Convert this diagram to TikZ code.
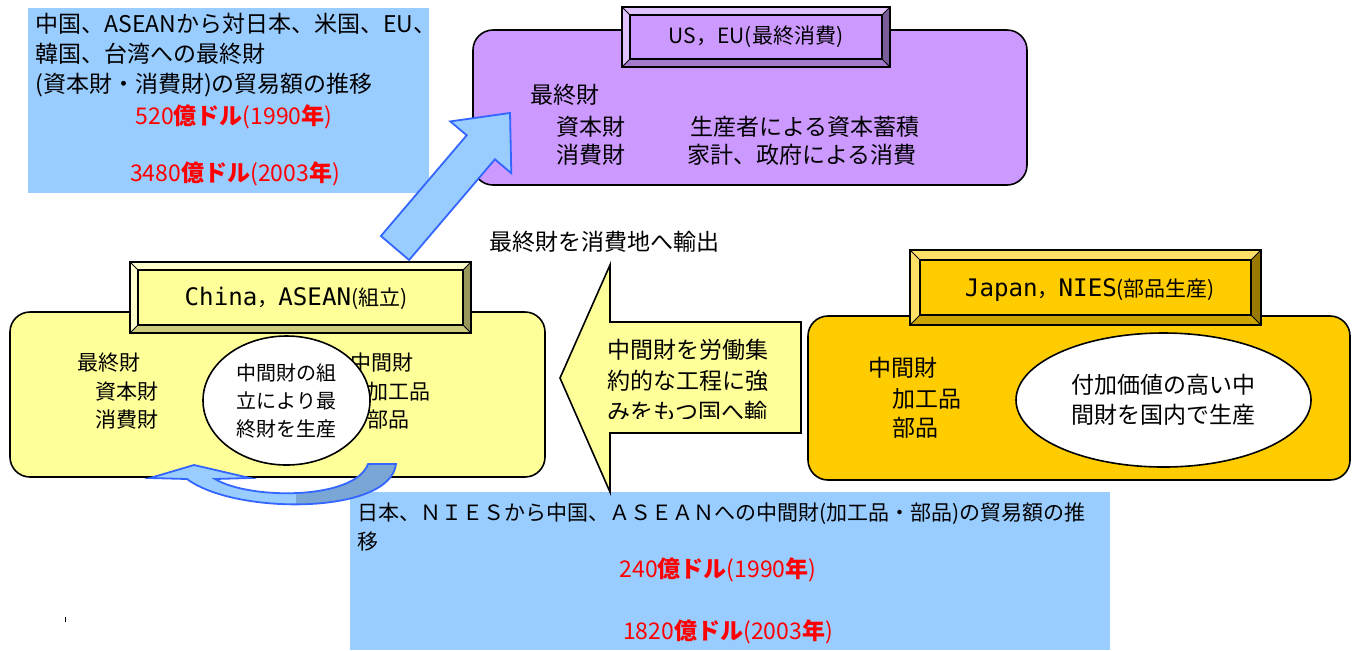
\documentclass[tikz,border=0pt]{standalone}
\usepackage{fontspec}
\setmainfont{Noto Sans CJK JP}
\newfontfamily\monofont{DejaVu Sans Mono}[Scale=1.15]
\usetikzlibrary{shapes.geometric}

\definecolor{boxblue}{HTML}{99CCFF}
\definecolor{edgeblue}{HTML}{3366FF}
\definecolor{shadeblue}{HTML}{7AA6D6}
\definecolor{lilac}{HTML}{CC99FF}
\definecolor{lilachi}{HTML}{E0C2FF}
\definecolor{lilaclo}{HTML}{7A5C99}
\definecolor{lilacmid}{HTML}{A37ACC}
\definecolor{cream}{HTML}{FFFF99}
\definecolor{creamhi}{HTML}{FFFFCC}
\definecolor{creamlo}{HTML}{99995C}
\definecolor{creammid}{HTML}{CCCC7A}
\definecolor{amber}{HTML}{FFCC00}
\definecolor{amberhi}{HTML}{FFE066}
\definecolor{amberlo}{HTML}{997A00}
\definecolor{ambermid}{HTML}{CCA300}

\begin{document}
\begin{tikzpicture}[x=0.5pt,y=-0.5pt,
  every node/.style={inner sep=0pt},
  txt/.style={anchor=west,font=\fontsize{11.5}{15}\selectfont},
  smalltxt/.style={anchor=west,font=\fontsize{10.5}{14.5}\selectfont},
  redtxt/.style={text=red,font=\fontsize{11.5}{15}\selectfont},
  titletxt/.style={font=\fontsize{10.5}{13}\selectfont},
  roundbox/.style={draw,line width=0.8pt,rounded corners=10pt},
  oval/.style={ellipse,draw,line width=0.8pt,fill=white,align=left},
  blockarrow/.style={draw=edgeblue,fill=boxblue,line width=0.9pt}]
  \useasboundingbox (0,0) rectangle (1352,650);

  % trade boxes
  \fill[boxblue] (28,8) rectangle (429,193);
  \fill[boxblue] (350,492) rectangle (1110,650);
  \fill (64.5,617) rectangle (66,622);

  % regions
  \draw[roundbox,fill=lilac] (473,30) rectangle (1027,185);
  \draw[roundbox,fill=cream] (10,312) rectangle (545,477);
  \draw[roundbox,fill=amber] (808,316) rectangle (1350,480);

  % final goods, US/EU
  \node[txt] (usfinal) at (530,95) {最終財};
  \node[txt] (uscapital) at (556,127) {資本財};
  \node[txt] (usaccum) at (690,127) {生産者による資本蓄積};
  \node[txt] (usconsumer) at (556,155) {消費財};
  \node[txt] (ushouse) at (687,155) {家計、政府による消費};

  % China, ASEAN
  \node[smalltxt] (cnfinal) at (77,363) {最終財};
  \node[smalltxt] (cncapital) at (95,392) {資本財};
  \node[smalltxt] (cnconsumer) at (95,420) {消費財};
  \node[smalltxt] (cninter) at (350,363) {中間財};
  \node[smalltxt] (cnprocessed) at (367,392) {加工品};
  \node[smalltxt] (cnparts) at (367,420) {部品};
  \node[oval,minimum width=83.5pt,minimum height=64.5pt,
        font=\fontsize{10}{14}\selectfont] (assemble) at (286.5,400.5)
    {中間財の組\\立により最\\終財を生産};

  % Japan, NIES
  \node[txt] (jpinter) at (868,368) {中間財};
  \node[txt] (jpprocessed) at (892,399) {加工品};
  \node[txt] (jpparts) at (892,428) {部品};
  \node[oval,minimum width=147.5pt,minimum height=67pt,
        font=\fontsize{11.5}{15}\selectfont] (produce) at (1163.5,400)
    {付加価値の高い中\\間財を国内で生産};

  % bevelled titles
  \foreach \xa/\ya/\xb/\yb/\bw/\face/\lite/\dark/\half in
    {622/7/890/67/8/lilac/lilachi/lilaclo/lilacmid,
     130/262/471/333/8/cream/creamhi/creamlo/creammid,
     910/250/1261/325/10/amber/amberhi/amberlo/ambermid}
  {
    \fill[\lite] (\xa,\ya) -- (\xb,\ya) -- (\xb-\bw,\ya+\bw) -- (\xa+\bw,\ya+\bw) -- cycle;
    \fill[\lite] (\xa,\ya) -- (\xa+\bw,\ya+\bw) -- (\xa+\bw,\yb-\bw) -- (\xa,\yb) -- cycle;
    \fill[\dark] (\xb,\ya) -- (\xb,\yb) -- (\xb-\bw,\yb-\bw) -- (\xb-\bw,\ya+\bw) -- cycle;
    \fill[\half] (\xa,\yb) -- (\xb,\yb) -- (\xb-\bw,\yb-\bw) -- (\xa+\bw,\yb-\bw) -- cycle;
    \draw[line width=0.8pt,fill=\face] (\xa+\bw,\ya+\bw) rectangle (\xb-\bw,\yb-\bw);
    \draw[line width=0.8pt] (\xa,\ya) rectangle (\xb,\yb);
    \draw (\xa,\ya) -- (\xa+\bw,\ya+\bw) (\xb,\ya) -- (\xb-\bw,\ya+\bw)
          (\xa,\yb) -- (\xa+\bw,\yb-\bw) (\xb,\yb) -- (\xb-\bw,\yb-\bw);
  }
  \node[titletxt] (ustitle) at (756,37) {US，EU(最終消費)};
  \node[titletxt] (cntitle) at (296,298) {{\monofont China}，{\monofont ASEAN}(組立)};
  \node[titletxt] (jptitle) at (1090,290) {{\monofont Japan}，{\monofont NIES}(部品生産)};

  % trade texts
  \node[txt,align=left] (finaltrade) at (35,55)
    {中国、ASEANから対日本、米国、EU、\\韓国、台湾への最終財\\(資本財・消費財)の貿易額の推移};
  \node[redtxt] (final90) at (234,117) {520\textbf{億ドル}(1990\textbf{年})};
  \node[redtxt] (final03) at (235,174) {3480\textbf{億ドル}(2003\textbf{年})};
  \node[smalltxt,align=left] (intertrade) at (357,527)
    {日本、ＮＩＥＳから中国、ＡＳＥＡＮへの中間財(加工品・部品)の貿易額の推\\移};
  \node[redtxt] (inter90) at (718,570) {240\textbf{億ドル}(1990\textbf{年})};
  \node[redtxt] (inter03) at (728,632) {1820\textbf{億ドル}(2003\textbf{年})};
  \node[txt] (exportlabel) at (489,242) {最終財を消費地へ輸出};

  % export arrow
  \draw[blockarrow] (380.9,236) -- (466.7,135.3) -- (450.3,121.4) -- (510,113)
    -- (511.3,173.2) -- (494.9,159.3) -- (409.1,260) -- cycle;

  % intermediate goods arrow
  \draw[line width=0.8pt,fill=cream] (560,378) -- (610,265) -- (610,322) -- (801,322)
    -- (801,433) -- (610,433) -- (610,492) -- cycle;
  \begin{scope}
    \clip (600,325) rectangle (800,418);
    \node[txt,align=left,font=\fontsize{11.5}{15.5}\selectfont] (laborlabel) at (607,381)
      {中間財を労働集\\約的な工程に強\\みをもつ国へ輸};
  \end{scope}

  % assembly loop
  \fill[boxblue] (150,478) -- (194,465) -- (250,478) -- (215,479)
    .. controls (250,500) and (355,500) .. (368,464) -- (396,464)
    .. controls (390,515) and (235,515) .. (187,479) -- cycle;
  \begin{scope}
    \clip (296,440) rectangle (410,520);
    \fill[shadeblue] (215,479) .. controls (250,500) and (355,500) .. (368,464)
      -- (396,464) .. controls (390,515) and (235,515) .. (187,479) -- cycle;
  \end{scope}
  \draw[edgeblue,line width=0.9pt] (150,478) -- (194,465) -- (250,478) -- (215,479)
    .. controls (250,500) and (355,500) .. (368,464) -- (396,464)
    .. controls (390,515) and (235,515) .. (187,479) -- cycle;
\end{tikzpicture}
\end{document}
